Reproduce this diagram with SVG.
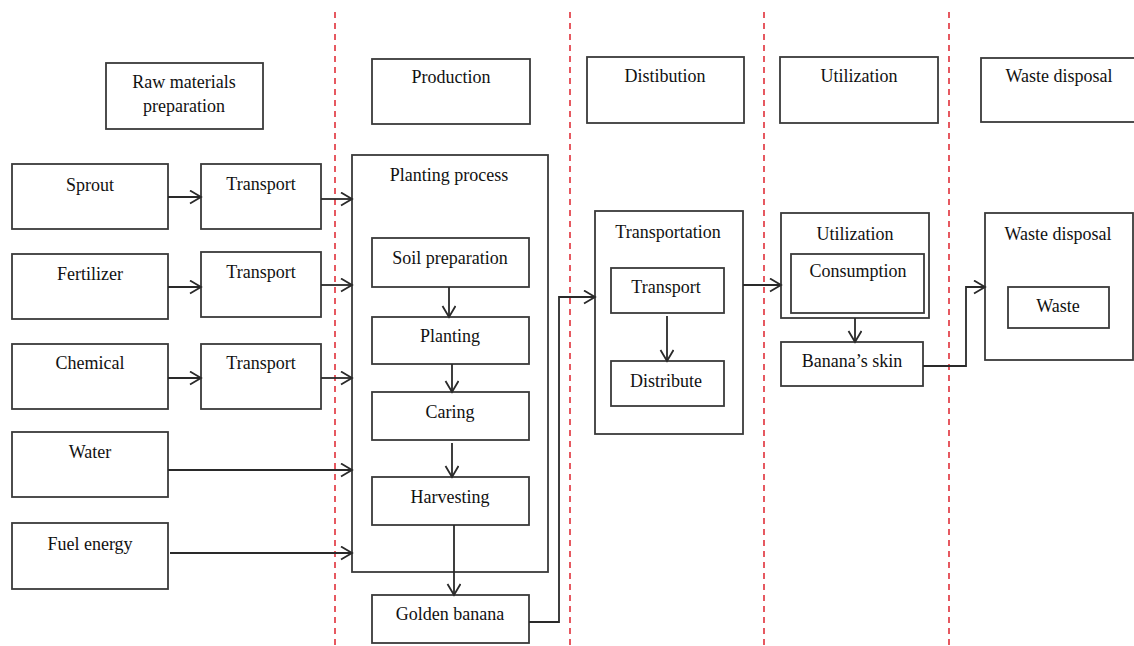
<svg xmlns="http://www.w3.org/2000/svg" width="1134" height="646" viewBox="0 0 1134 646">
<defs>
<marker id="arr" markerUnits="userSpaceOnUse" markerWidth="14" markerHeight="16" refX="12" refY="7" orient="auto">
<path d="M1,0.5 L12,7 L1,13.5" fill="none" stroke="#2a2a2a" stroke-width="1.8"/>
</marker>
</defs>
<style>
rect{fill:#fff;stroke:#3a3a3a;stroke-width:1.8}
text{font-family:'Liberation Serif','DejaVu Serif','Noto Serif',serif;font-size:18px;fill:#111;text-anchor:middle}
.sep{stroke:#e0303a;stroke-width:1.6;stroke-dasharray:6 5;fill:none}
.c{stroke:#2a2a2a;stroke-width:1.8;fill:none}
</style>
<rect x="0" y="0" width="1134" height="646" style="fill:#fff;stroke:none"/>
<g id="separators">
<line class="sep" x1="335" y1="12" x2="335" y2="646"/>
<line class="sep" x1="570" y1="12" x2="570" y2="646"/>
<line class="sep" x1="764" y1="12" x2="764" y2="646"/>
<line class="sep" x1="949" y1="12" x2="949" y2="646"/>
</g>
<g id="h-raw"><rect x="106" y="63" width="157" height="66"/><text x="184" y="88">Raw materials</text><text x="184" y="112">preparation</text></g>
<g id="h-prod"><rect x="372" y="59" width="158" height="65"/><text x="451" y="83">Production</text></g>
<g id="h-dist"><rect x="587" y="57" width="157" height="66"/><text x="665" y="82">Distibution</text></g>
<g id="h-util"><rect x="780" y="57" width="158" height="66"/><text x="859" y="82">Utilization</text></g>
<g id="h-waste"><rect x="981" y="58" width="160" height="64"/><text x="1059" y="82">Waste disposal</text></g>
<g id="sprout"><rect x="12" y="164" width="156" height="65"/><text x="90" y="191">Sprout</text></g>
<g id="t1"><rect x="201" y="164" width="120" height="65"/><text x="261" y="190">Transport</text></g>
<g id="fert"><rect x="12" y="254" width="156" height="65"/><text x="90" y="280">Fertilizer</text></g>
<g id="t2"><rect x="201" y="252" width="120" height="65"/><text x="261" y="278">Transport</text></g>
<g id="chem"><rect x="12" y="344" width="156" height="65"/><text x="90" y="369">Chemical</text></g>
<g id="t3"><rect x="201" y="344" width="120" height="65"/><text x="261" y="369">Transport</text></g>
<g id="water"><rect x="12" y="432" width="156" height="65"/><text x="90" y="458">Water</text></g>
<g id="fuel"><rect x="12" y="523" width="156" height="66"/><text x="90" y="550">Fuel energy</text></g>
<g id="planting-process"><rect x="352" y="155" width="196" height="417"/><text x="449" y="181">Planting process</text></g>
<g id="soil"><rect x="372" y="238" width="157" height="49"/><text x="450" y="264">Soil preparation</text></g>
<g id="planting"><rect x="372" y="317" width="157" height="47"/><text x="450" y="342">Planting</text></g>
<g id="caring"><rect x="372" y="392" width="157" height="48"/><text x="450" y="418">Caring</text></g>
<g id="harvest"><rect x="372" y="477" width="157" height="48"/><text x="450" y="503">Harvesting</text></g>
<g id="golden"><rect x="372" y="595" width="157" height="48"/><text x="450" y="620">Golden banana</text></g>
<g id="transportation"><rect x="595" y="211" width="148" height="223"/><text x="668" y="238">Transportation</text></g>
<g id="tr-in"><rect x="611" y="268" width="113" height="45"/><text x="666" y="293">Transport</text></g>
<g id="distribute"><rect x="611" y="361" width="113" height="45"/><text x="666" y="387">Distribute</text></g>
<g id="utilization"><rect x="781" y="213" width="148" height="105"/><text x="855" y="240">Utilization</text></g>
<g id="consumption"><rect x="791" y="254" width="133" height="59"/><text x="858" y="277">Consumption</text></g>
<g id="skin"><rect x="781" y="342" width="142" height="44"/><text x="852" y="367">Banana’s skin</text></g>
<g id="wastebox"><rect x="985" y="213" width="148" height="147"/><text x="1058" y="240">Waste disposal</text></g>
<g id="waste"><rect x="1008" y="287" width="101" height="41"/><text x="1058" y="312">Waste</text></g>
<g id="connectors">
<line class="c" x1="168" y1="197" x2="201" y2="197" marker-end="url(#arr)"/>
<line class="c" x1="168" y1="287" x2="201" y2="287" marker-end="url(#arr)"/>
<line class="c" x1="168" y1="378" x2="201" y2="378" marker-end="url(#arr)"/>
<line class="c" x1="321" y1="199" x2="352" y2="199" marker-end="url(#arr)"/>
<line class="c" x1="321" y1="285" x2="352" y2="285" marker-end="url(#arr)"/>
<line class="c" x1="321" y1="378" x2="352" y2="378" marker-end="url(#arr)"/>
<line class="c" x1="168" y1="470" x2="352" y2="470" marker-end="url(#arr)"/>
<line class="c" x1="170" y1="553" x2="352" y2="553" marker-end="url(#arr)"/>
<line class="c" x1="449" y1="287" x2="449" y2="317" marker-end="url(#arr)"/>
<line class="c" x1="452" y1="364" x2="452" y2="392" marker-end="url(#arr)"/>
<line class="c" x1="452" y1="443" x2="452" y2="477" marker-end="url(#arr)"/>
<line class="c" x1="454" y1="525" x2="454" y2="595" marker-end="url(#arr)"/>
<polyline class="c" points="529,622 559,622 559,297 595,297" marker-end="url(#arr)"/>
<line class="c" x1="667" y1="316" x2="667" y2="361" marker-end="url(#arr)"/>
<line class="c" x1="743" y1="285" x2="781" y2="285" marker-end="url(#arr)"/>
<line class="c" x1="855" y1="318" x2="855" y2="342" marker-end="url(#arr)"/>
<polyline class="c" points="923,366 966,366 966,287 985,287" marker-end="url(#arr)"/>
</g>
</svg>
